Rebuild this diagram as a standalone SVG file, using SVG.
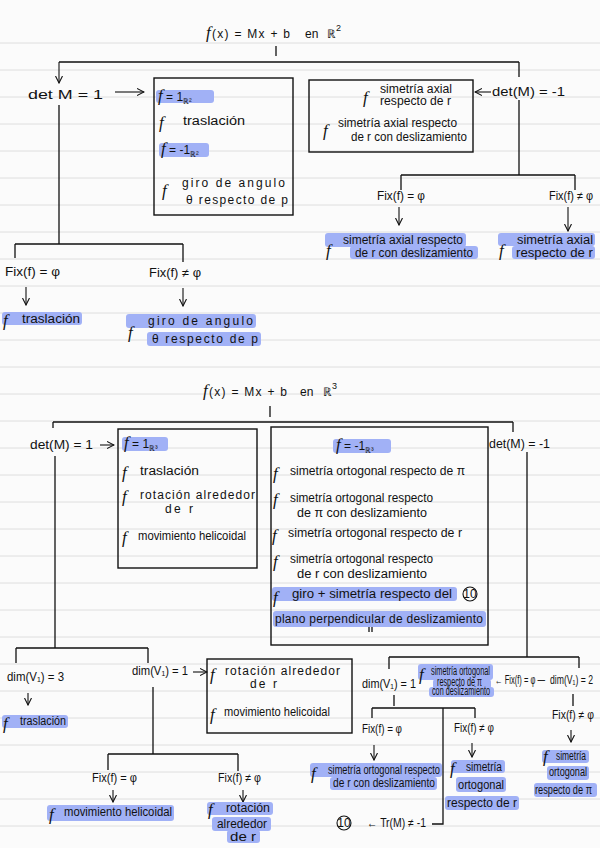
<svg xmlns="http://www.w3.org/2000/svg" width="600" height="848" viewBox="0 0 600 848">
<defs>
<marker id="ah" viewBox="0 0 8 8" refX="7" refY="4" markerWidth="8" markerHeight="8" markerUnits="userSpaceOnUse" orient="auto">
<path d="M0,0.5 L7,4 L0,7.5" fill="none" stroke="#111" stroke-width="1.1"/>
</marker>
<style>
.t{font-family:"Liberation Sans",Arial,sans-serif;fill:#111;font-size:12px}
.f{font-family:"Liberation Serif","Times New Roman",serif;font-style:italic;fill:#111;font-size:17px}
.hl{fill:#a1b1f6}
.box{fill:none;stroke:#111;stroke-width:1.4}
.ln{fill:none;stroke:#111;stroke-width:1.3}
.ar{fill:none;stroke:#111;stroke-width:1.1;marker-end:url(#ah)}
.rule{stroke:#dedede;stroke-width:1}
.c{fill:none;stroke:#111;stroke-width:1.1}
</style>
</defs>
<rect x="0" y="0" width="600" height="848" fill="#fbfbfb"/>
<g id="rules">
<line class="rule" x1="0" x2="600" y1="43" y2="43"/><line class="rule" x1="0" x2="600" y1="70" y2="70"/><line class="rule" x1="0" x2="600" y1="97" y2="97"/><line class="rule" x1="0" x2="600" y1="124" y2="124"/><line class="rule" x1="0" x2="600" y1="151" y2="151"/><line class="rule" x1="0" x2="600" y1="178" y2="178"/><line class="rule" x1="0" x2="600" y1="205" y2="205"/><line class="rule" x1="0" x2="600" y1="232" y2="232"/><line class="rule" x1="0" x2="600" y1="259" y2="259"/><line class="rule" x1="0" x2="600" y1="286" y2="286"/><line class="rule" x1="0" x2="600" y1="313" y2="313"/><line class="rule" x1="0" x2="600" y1="340" y2="340"/><line class="rule" x1="0" x2="600" y1="367" y2="367"/><line class="rule" x1="0" x2="600" y1="394" y2="394"/><line class="rule" x1="0" x2="600" y1="421" y2="421"/><line class="rule" x1="0" x2="600" y1="448" y2="448"/><line class="rule" x1="0" x2="600" y1="475" y2="475"/><line class="rule" x1="0" x2="600" y1="502" y2="502"/><line class="rule" x1="0" x2="600" y1="529" y2="529"/><line class="rule" x1="0" x2="600" y1="556" y2="556"/><line class="rule" x1="0" x2="600" y1="583" y2="583"/><line class="rule" x1="0" x2="600" y1="610" y2="610"/><line class="rule" x1="0" x2="600" y1="637" y2="637"/><line class="rule" x1="0" x2="600" y1="664" y2="664"/><line class="rule" x1="0" x2="600" y1="691" y2="691"/><line class="rule" x1="0" x2="600" y1="718" y2="718"/><line class="rule" x1="0" x2="600" y1="745" y2="745"/><line class="rule" x1="0" x2="600" y1="772" y2="772"/><line class="rule" x1="0" x2="600" y1="799" y2="799"/><line class="rule" x1="0" x2="600" y1="826" y2="826"/>
</g>

<g id="connectors">
<path class="ln" d="M276,46 V56 M59,62 H519 M519,62 V77 M59,105 V244 M15,244 H183 M15,244 V258 M183,244 V262 M519,100 V175 M401,175 H575 M401,175 V190 M575,175 V190"/>
<path class="ar" d="M59,62 V83"/>
<path class="ar" d="M115,92 H144"/>
<path class="ar" d="M491,92 H475"/>
<path class="ar" d="M26,287 V305"/>
<path class="ar" d="M183,288 V306"/>
<path class="ar" d="M399,207 V225"/>
<path class="ar" d="M568,207 V231"/>

<path class="ln" d="M270,406 V417 M53,422 H513 M53,422 V428 M513,422 V432 M55,456 V648 M16,648 H148 M16,648 V663 M148,648 V663 M153,687 V754 M108,754 H238 M108,754 V770 M238,754 V771 M527,452 V657 M389,657 H579 M389,657 V669 M579,657 V668 M394,695 V706 M372,708 H475 M372,708 V718 M475,708 V718 M443,708 V824 H432 M573,694 V706"/>
<path class="ar" d="M100,445 H114"/>
<path class="ar" d="M28,693 V705"/>
<path class="ar" d="M193,672 H207"/>
<path class="ar" d="M113,790 V802"/>
<path class="ar" d="M243,790 V802"/>
<path class="ar" d="M374,745 V760"/>
<path class="ar" d="M472,743 V757"/>
<path class="ar" d="M571,730 V742"/>
</g>

<g id="title2d">
<text class="t" x="206" y="38" font-size="16" textLength="84" lengthAdjust="spacing"><tspan class="f" font-size="19">f</tspan>(x) = Mx + b</text>
<text class="t" x="305" y="38" font-size="13">en</text>
<text class="t" x="327" y="38" font-size="15">ℝ<tspan font-size="9" dy="-7">2</tspan></text>
</g>
<g id="det1-2d">
<text class="t" x="28" y="99" font-size="15" textLength="75" lengthAdjust="spacingAndGlyphs">det  M = 1</text>
</g>
<g id="box1">
<rect class="box" x="154" y="78" width="139" height="137"/>
<rect class="hl" x="156" y="90" width="58" height="13" rx="3"/>
<text class="t" x="158" y="101" font-size="13"><tspan class="f" font-size="16">f</tspan> = 1<tspan font-size="8" dy="3">ℝ²</tspan></text>
<text class="f" x="159" y="128">f</text>
<text class="t" x="183" y="125" textLength="62" lengthAdjust="spacingAndGlyphs">traslación</text>
<rect class="hl" x="159" y="143" width="50" height="14" rx="3"/>
<text class="t" x="161" y="154" font-size="13"><tspan class="f" font-size="16">f</tspan> = -1<tspan font-size="8" dy="3">ℝ²</tspan></text>
<text class="f" x="162" y="196">f</text>
<text class="t" x="182" y="187" textLength="103" lengthAdjust="spacing">giro de angulo</text>
<text class="t" x="186" y="204" textLength="102" lengthAdjust="spacing">θ respecto de p</text>
</g>
<g id="box2">
<rect class="box" x="309" y="80" width="164" height="72"/>
<text class="f" x="363" y="103" font-size="15">f</text>
<text class="t" x="380" y="93" font-size="10" textLength="72" lengthAdjust="spacingAndGlyphs">simetría axial</text>
<text class="t" x="380" y="105" font-size="10" textLength="71" lengthAdjust="spacingAndGlyphs">respecto de r</text>
<text class="f" x="323" y="136" font-size="15">f</text>
<text class="t" x="338" y="127" font-size="10" textLength="119" lengthAdjust="spacingAndGlyphs">simetría axial respecto</text>
<text class="t" x="351" y="141" font-size="10" textLength="116" lengthAdjust="spacingAndGlyphs">de r con deslizamiento</text>
</g>
<g id="detm1-2d">
<text class="t" x="492" y="96" font-size="14" textLength="73" lengthAdjust="spacingAndGlyphs">det(M) = -1</text>
</g>
<g id="fix-a">
<text class="t" x="377" y="200" font-size="11" textLength="48" lengthAdjust="spacingAndGlyphs">Fix(f) = φ</text>
</g>
<g id="fix-b">
<text class="t" x="549" y="200" font-size="10.5" textLength="44" lengthAdjust="spacingAndGlyphs">Fix(f) ≠ φ</text>
</g>
<g id="res-a">
<rect class="hl" x="325" y="233" width="141" height="14" rx="3"/>
<rect class="hl" x="350" y="246" width="128" height="13" rx="3"/>
<text class="f" x="326" y="256" font-size="15">f</text>
<text class="t" x="343" y="244" font-size="10" textLength="120" lengthAdjust="spacingAndGlyphs">simetría axial respecto</text>
<text class="t" x="355" y="257" font-size="10" textLength="118" lengthAdjust="spacingAndGlyphs">de r con deslizamiento</text>
</g>
<g id="res-b">
<rect class="hl" x="498" y="233" width="97" height="13" rx="3"/>
<rect class="hl" x="512" y="246" width="83" height="13" rx="3"/>
<text class="f" x="499" y="256" font-size="15">f</text>
<text class="t" x="517" y="244" font-size="10" textLength="76" lengthAdjust="spacingAndGlyphs">simetría axial</text>
<text class="t" x="516" y="257" font-size="10" textLength="77" lengthAdjust="spacingAndGlyphs">respecto de r</text>
</g>
<g id="fix-c">
<text class="t" x="5" y="276" font-size="12.5" textLength="55" lengthAdjust="spacingAndGlyphs">Fix(f) = φ</text>
</g>
<g id="fix-d">
<text class="t" x="149" y="277" font-size="12.5" textLength="52" lengthAdjust="spacingAndGlyphs">Fix(f) ≠ φ</text>
</g>
<g id="res-c">
<rect class="hl" x="2" y="312" width="80" height="13" rx="3"/>
<text class="f" x="3" y="326" font-size="15">f</text>
<text class="t" x="22" y="323" textLength="58" lengthAdjust="spacingAndGlyphs">traslación</text>
</g>
<g id="res-d">
<rect class="hl" x="126" y="314" width="130" height="14" rx="3"/>
<rect class="hl" x="147" y="332" width="114" height="14" rx="3"/>
<text class="f" x="128" y="338">f</text>
<text class="t" x="148" y="325" textLength="105" lengthAdjust="spacing">giro de angulo</text>
<text class="t" x="152" y="343" textLength="106" lengthAdjust="spacing">θ respecto de p</text>
</g>

<g id="title3d">
<text class="t" x="203" y="396" font-size="16" textLength="84" lengthAdjust="spacing"><tspan class="f" font-size="19">f</tspan>(x) = Mx + b</text>
<text class="t" x="300" y="396" font-size="13">en</text>
<text class="t" x="323" y="396" font-size="15">ℝ<tspan font-size="9" dy="-7">3</tspan></text>
</g>
<g id="det1-3d">
<text class="t" x="30" y="449" font-size="14" textLength="63" lengthAdjust="spacingAndGlyphs">det(M) = 1</text>
</g>
<g id="box3">
<rect class="box" x="118" y="429" width="139" height="139"/>
<rect class="hl" x="122" y="437" width="46" height="14" rx="3"/>
<text class="t" x="124" y="448" font-size="13"><tspan class="f" font-size="16">f</tspan> = 1<tspan font-size="8" dy="3">ℝ³</tspan></text>
<text class="f" x="122" y="478">f</text>
<text class="t" x="140" y="475" textLength="59" lengthAdjust="spacingAndGlyphs">traslación</text>
<text class="f" x="122" y="502">f</text>
<text class="t" x="140" y="499" textLength="115" lengthAdjust="spacing">rotación alrededor</text>
<text class="t" x="165" y="513" textLength="28" lengthAdjust="spacing">de r</text>
<text class="f" x="122" y="543">f</text>
<text class="t" x="138" y="540" textLength="108" lengthAdjust="spacingAndGlyphs">movimiento helicoidal</text>
</g>
<g id="box4">
<rect class="box" x="271" y="427" width="217" height="218"/>
<rect class="hl" x="333" y="439" width="58" height="14" rx="3"/>
<text class="t" x="336" y="450" font-size="13"><tspan class="f" font-size="16">f</tspan> = -1<tspan font-size="8" dy="3">ℝ³</tspan></text>
<text class="f" x="273" y="479">f</text>
<text class="t" x="290" y="475" font-size="11" textLength="175" lengthAdjust="spacingAndGlyphs">simetría ortogonal respecto de π</text>
<text class="f" x="273" y="505">f</text>
<text class="t" x="290" y="502" font-size="11" textLength="143" lengthAdjust="spacingAndGlyphs">simetría ortogonal respecto</text>
<text class="t" x="297" y="517" font-size="11" textLength="130" lengthAdjust="spacingAndGlyphs">de π con deslizamiento</text>
<text class="f" x="272" y="541">f</text>
<text class="t" x="288" y="537" font-size="11" textLength="174" lengthAdjust="spacingAndGlyphs">simetría ortogonal respecto de r</text>
<text class="f" x="273" y="567">f</text>
<text class="t" x="290" y="563" font-size="11" textLength="143" lengthAdjust="spacingAndGlyphs">simetría ortogonal respecto</text>
<text class="t" x="297" y="578" font-size="11" textLength="130" lengthAdjust="spacingAndGlyphs">de r con deslizamiento</text>
<rect class="hl" x="272" y="587" width="185" height="14" rx="3"/>
<rect class="hl" x="273" y="611" width="213" height="16" rx="3"/>
<text class="f" x="273" y="603">f</text>
<text class="t" x="292" y="598" font-size="11" textLength="160" lengthAdjust="spacingAndGlyphs">giro + simetría respecto del</text>
<circle class="c" cx="470" cy="594" r="7"/>
<text class="t" x="470" y="597.5" font-size="9" text-anchor="middle">10</text>
<text class="t" x="275" y="623" font-size="11" textLength="208" lengthAdjust="spacing">plano perpendicular de deslizamiento</text>
<path class="ln" d="M369,627 V632 M372,627 V632" stroke-width="1"/>
</g>
<g id="detm1-3d">
<text class="t" x="489" y="448" font-size="13" textLength="61" lengthAdjust="spacingAndGlyphs">det(M) = -1</text>
</g>
<g id="dim3">
<text class="t" x="7" y="681" font-size="11.5" textLength="57" lengthAdjust="spacingAndGlyphs">dim(V₁) = 3</text>
</g>
<g id="res-e">
<rect class="hl" x="2" y="715" width="66" height="13" rx="3"/>
<text class="f" x="3" y="729" font-size="15">f</text>
<text class="t" x="20" y="725" font-size="11" textLength="46" lengthAdjust="spacingAndGlyphs">traslación</text>
</g>
<g id="dim1-a">
<text class="t" x="132" y="675" font-size="11" textLength="56" lengthAdjust="spacingAndGlyphs">dim(V₁) = 1</text>
</g>
<g id="box5">
<rect class="box" x="207" y="659" width="145" height="74"/>
<text class="f" x="210" y="680">f</text>
<text class="t" x="225" y="675" textLength="115" lengthAdjust="spacing">rotación alrededor</text>
<text class="t" x="250" y="688" textLength="27" lengthAdjust="spacing">de r</text>
<text class="f" x="210" y="720">f</text>
<text class="t" x="224" y="716" textLength="106" lengthAdjust="spacingAndGlyphs">movimiento helicoidal</text>
</g>
<g id="fix-e">
<text class="t" x="92" y="782" font-size="11" textLength="45" lengthAdjust="spacingAndGlyphs">Fix(f) = φ</text>
</g>
<g id="fix-f">
<text class="t" x="218" y="782" font-size="10.5" textLength="43" lengthAdjust="spacingAndGlyphs">Fix(f) ≠ φ</text>
</g>
<g id="res-f">
<rect class="hl" x="47" y="805" width="127" height="16" rx="3"/>
<text class="f" x="49" y="820" font-size="15">f</text>
<text class="t" x="64" y="816" textLength="108" lengthAdjust="spacingAndGlyphs">movimiento helicoidal</text>
</g>
<g id="res-g">
<rect class="hl" x="207" y="802" width="66" height="13" rx="3"/>
<rect class="hl" x="212" y="817" width="59" height="14" rx="3"/>
<rect class="hl" x="227" y="830" width="33" height="13" rx="3"/>
<text class="f" x="208" y="815" font-size="14">f</text>
<text class="t" x="226" y="812" font-size="11" textLength="44" lengthAdjust="spacingAndGlyphs">rotación</text>
<text class="t" x="217" y="828" font-size="11" textLength="50" lengthAdjust="spacingAndGlyphs">alrededor</text>
<text class="t" x="230" y="841" font-size="11" textLength="26" lengthAdjust="spacingAndGlyphs">de r</text>
</g>
<g id="dim1-b">
<text class="t" x="362" y="688" font-size="10.5" textLength="54" lengthAdjust="spacingAndGlyphs">dim(V₁) = 1</text>
</g>
<g id="res-h">
<rect class="hl" x="418" y="664" width="75" height="16" rx="3"/>
<rect class="hl" x="433" y="679" width="58" height="10" rx="3"/>
<rect class="hl" x="429" y="687" width="65" height="10" rx="3"/>
<text class="f" x="419" y="680" font-size="13">f</text>
<text class="t" x="431" y="675" font-size="7" textLength="59" lengthAdjust="spacingAndGlyphs">simetría ortogonal</text>
<text class="t" x="437" y="685.5" font-size="6.5" textLength="45" lengthAdjust="spacingAndGlyphs">respecto de π</text>
<text class="t" x="432" y="694.5" font-size="6.5" textLength="58" lengthAdjust="spacingAndGlyphs">con deslizamiento</text>
</g>
<g id="fix-g">
<text class="t" x="495" y="684" font-size="8" textLength="50" lengthAdjust="spacingAndGlyphs">← Fix(f) = φ —</text>
</g>
<g id="dim2">
<text class="t" x="550" y="684" font-size="8.5" textLength="43" lengthAdjust="spacingAndGlyphs">dim(V₁) = 2</text>
</g>
<g id="fix-h">
<text class="t" x="362" y="733" font-size="10" textLength="40" lengthAdjust="spacingAndGlyphs">Fix(f) = φ</text>
</g>
<g id="fix-i">
<text class="t" x="454" y="732" font-size="10" textLength="40" lengthAdjust="spacingAndGlyphs">Fix(f) ≠ φ</text>
</g>
<g id="fix-j">
<text class="t" x="552" y="719" font-size="10" textLength="42" lengthAdjust="spacingAndGlyphs">Fix(f) ≠ φ</text>
</g>
<g id="res-i">
<rect class="hl" x="310" y="763" width="132" height="14" rx="3"/>
<rect class="hl" x="330" y="777" width="107" height="13" rx="3"/>
<text class="f" x="311" y="779" font-size="13">f</text>
<text class="t" x="328" y="774" font-size="9" textLength="112" lengthAdjust="spacingAndGlyphs">simetría ortogonal respecto</text>
<text class="t" x="333" y="787" font-size="9" textLength="102" lengthAdjust="spacingAndGlyphs">de r con deslizamiento</text>
</g>
<g id="res-j">
<rect class="hl" x="451" y="760" width="54" height="13" rx="3"/>
<rect class="hl" x="456" y="777" width="50" height="15" rx="3"/>
<rect class="hl" x="445" y="796" width="74" height="14" rx="3"/>
<text class="f" x="450" y="774" font-size="14">f</text>
<text class="t" x="466" y="771" font-size="11" textLength="36" lengthAdjust="spacingAndGlyphs">simetría</text>
<text class="t" x="458" y="789" font-size="11" textLength="46" lengthAdjust="spacingAndGlyphs">ortogonal</text>
<text class="t" x="447" y="807" font-size="11" textLength="70" lengthAdjust="spacingAndGlyphs">respecto de r</text>
</g>
<g id="res-k">
<rect class="hl" x="542" y="750" width="47" height="13" rx="3"/>
<rect class="hl" x="547" y="766" width="42" height="14" rx="3"/>
<rect class="hl" x="534" y="783" width="63" height="14" rx="3"/>
<text class="f" x="543" y="762" font-size="12">f</text>
<text class="t" x="556" y="760" font-size="10" textLength="30" lengthAdjust="spacingAndGlyphs">simetría</text>
<text class="t" x="549" y="776" font-size="10" textLength="38" lengthAdjust="spacingAndGlyphs">ortogonal</text>
<text class="t" x="535" y="794" font-size="9" textLength="57" lengthAdjust="spacingAndGlyphs">respecto de π</text>
</g>
<g id="tr">
<circle class="c" cx="344" cy="823" r="7"/>
<text class="t" x="344" y="826.5" font-size="9" text-anchor="middle">10</text>
<text class="t" x="367" y="827" font-size="10" textLength="59" lengthAdjust="spacingAndGlyphs">← Tr(M) ≠ -1</text>
</g>
</svg>
